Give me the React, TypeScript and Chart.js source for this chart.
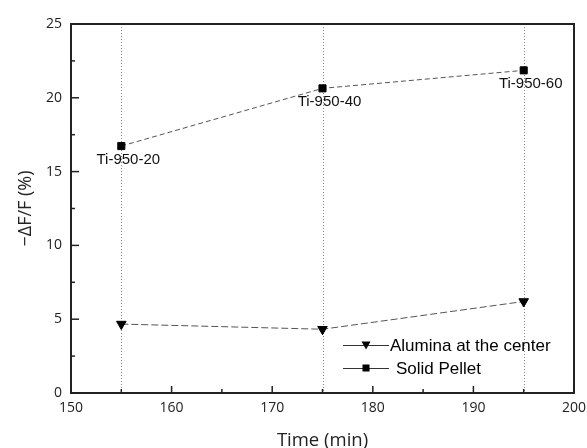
import React, { useEffect, useRef } from "react";
import { Chart, registerables } from "chart.js";

Chart.register(...registerables);

const times = [155, 175, 195];
const aluminaValues = [4.67, 4.32, 6.2];
const solidValues = [16.73, 20.64, 21.86];
const solidPointLabels = ["Ti-950-20", "Ti-950-40", "Ti-950-60"];
const seriesNames = ["Alumina at the center", "Solid Pellet"];
const guideTimes = [155, 175, 195];

const W = 587;
const H = 448;

const decorPlugin = {
  id: "decor",
  beforeDatasetsDraw(chart: any) {
    const { ctx, chartArea } = chart;
    const xs = chart.scales.x;
    ctx.save();
    ctx.strokeStyle = "#8a8a8a";
    ctx.lineWidth = 1;
    ctx.setLineDash([1, 2]);
    guideTimes.forEach((t) => {
      const px = Math.round(xs.getPixelForValue(t)) + 0.5;
      ctx.beginPath();
      ctx.moveTo(px, chartArea.top);
      ctx.lineTo(px, chartArea.bottom);
      ctx.stroke();
    });
    ctx.restore();
  },
  afterDatasetsDraw(chart: any) {
    const { ctx, chartArea } = chart;
    const xs = chart.scales.x;
    const ys = chart.scales.y;
    ctx.save();
    // box
    ctx.strokeStyle = "#222";
    ctx.lineWidth = 2;
    ctx.setLineDash([]);
    ctx.strokeRect(chartArea.left, chartArea.top, chartArea.right - chartArea.left, chartArea.bottom - chartArea.top);
    // inward ticks
    ctx.lineWidth = 1.5;
    const drawY = (v: number, len: number) => {
      const py = ys.getPixelForValue(v);
      ctx.beginPath();
      ctx.moveTo(chartArea.left, py);
      ctx.lineTo(chartArea.left + len, py);
      ctx.stroke();
    };
    const drawX = (v: number, len: number) => {
      const px = xs.getPixelForValue(v);
      ctx.beginPath();
      ctx.moveTo(px, chartArea.bottom);
      ctx.lineTo(px, chartArea.bottom - len);
      ctx.stroke();
    };
    const yt = ys.ticks.map((t: any) => t.value);
    yt.forEach((v: number, i: number) => {
      drawY(v, 8);
      if (i < yt.length - 1) drawY((v + yt[i + 1]) / 2, 4);
    });
    const xt = xs.ticks.map((t: any) => t.value);
    xt.forEach((v: number, i: number) => {
      drawX(v, 7);
      if (i < xt.length - 1) drawX((v + xt[i + 1]) / 2, 4);
    });
    // point labels
    ctx.fillStyle = "#111";
    ctx.font = "15px 'Liberation Sans', Arial, sans-serif";
    ctx.textAlign = "center";
    ctx.textBaseline = "middle";
    const meta = chart.getDatasetMeta(1);
    meta.data.forEach((pt: any, i: number) => {
      ctx.fillText(solidPointLabels[i], pt.x + 7, pt.y + 14);
    });
    // legend
    const lx0 = 343;
    const lx1 = 389;
    const rows = [345, 368];
    ctx.font = "17px 'Liberation Sans', Arial, sans-serif";
    ctx.textAlign = "left";
    chart.data.datasets.forEach((ds: any, i: number) => {
      const y = rows[i];
      ctx.strokeStyle = "#333";
      ctx.lineWidth = 1;
      ctx.beginPath();
      ctx.moveTo(lx0, y + 0.5);
      ctx.lineTo(lx1, y + 0.5);
      ctx.stroke();
      const cx = (lx0 + lx1) / 2;
      ctx.fillStyle = "#000";
      if (i === 0) {
        ctx.beginPath();
        ctx.moveTo(cx - 4.5, y - 3.5);
        ctx.lineTo(cx + 4.5, y - 3.5);
        ctx.lineTo(cx, y + 4.5);
        ctx.closePath();
        ctx.fill();
      } else {
        ctx.fillRect(cx - 3.5, y - 3.5, 7, 7);
      }
      ctx.fillStyle = "#000";
      ctx.fillText(ds.label, i === 0 ? 390 : 396, y + 1);
    });
    ctx.restore();
  },
};

export default function App() {
  const ref = useRef<HTMLCanvasElement>(null);
  useEffect(() => {
    const prevMargin = document.body.style.margin;
    document.body.style.margin = "0";
    const chart = new Chart(ref.current!, {
      type: "scatter",
      data: {
        datasets: [
          {
            label: seriesNames[0],
            data: times.map((t, i) => ({ x: t, y: aluminaValues[i] })),
            showLine: true,
            borderColor: "#555",
            borderWidth: 1,
            borderDash: [7, 3],
            pointStyle: "triangle",
            rotation: 180,
            pointRadius: 5.5,
            backgroundColor: "#000",
            pointBorderColor: "#000",
            pointBackgroundColor: "#000",
          },
          {
            label: seriesNames[1],
            data: times.map((t, i) => ({ x: t, y: solidValues[i] })),
            showLine: true,
            borderColor: "#555",
            borderWidth: 1,
            borderDash: [5, 3],
            pointStyle: "rect",
            pointRadius: 5,
            backgroundColor: "#000",
            pointBorderColor: "#000",
            pointBackgroundColor: "#000",
          },
        ],
      },
      options: {
        animation: false,
        responsive: false,
        layout: { padding: { top: 24, right: 13, left: 0, bottom: 0 } },
        plugins: { legend: { display: false }, tooltip: { enabled: false } },
        scales: {
          x: {
            type: "linear",
            min: 150,
            max: 200,
            ticks: {
              stepSize: 10,
              padding: 7,
              color: "#222",
              font: { family: "'Open Sans', sans-serif", size: 14 },
            },
            grid: { display: false, drawTicks: false },
            border: { display: false },
            title: {
              display: true,
              text: "Time (min)",
              color: "#222",
              font: { family: "'Open Sans', sans-serif", size: 18.5, lineHeight: 0.6 },
              padding: { top: 0, bottom: 2 },
            },
            afterFit: (s: any) => {
              s.height = 55;
              s.paddingLeft = 0;
              s.paddingRight = 0;
            },
          },
          y: {
            min: 0,
            max: 25,
            ticks: {
              stepSize: 5,
              padding: 9,
              color: "#222",
              font: { family: "'Open Sans', sans-serif", size: 14 },
            },
            grid: { display: false, drawTicks: false },
            border: { display: false },
            title: {
              display: true,
              text: "\u2212\u0394F/F (%)",
              color: "#222",
              font: { family: "'Open Sans', sans-serif", size: 18 },
              padding: { top: 15, bottom: 0 },
            },
            afterFit: (s: any) => {
              s.width = 71;
              s.paddingTop = 0;
              s.paddingBottom = 0;
            },
          },
        },
      },
      plugins: [decorPlugin],
    });
    return () => {
      chart.destroy();
      document.body.style.margin = prevMargin;
    };
  }, []);
  return (
    <div style={{ position: "relative", width: W, height: H }}>
      <canvas ref={ref} width={W} height={H} style={{ display: "block" }} />
    </div>
  );
}
